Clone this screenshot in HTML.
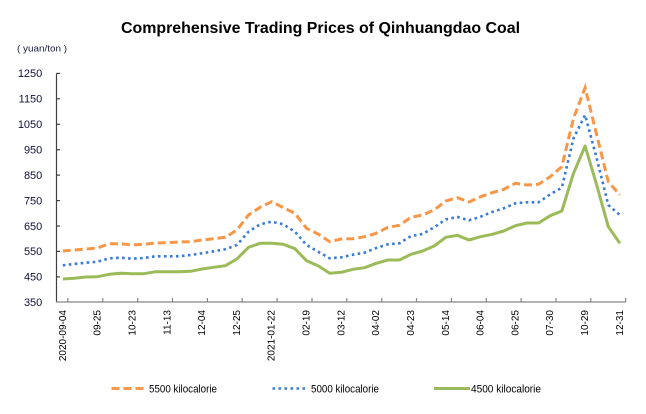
<!DOCTYPE html>
<html>
<head>
<meta charset="utf-8">
<style>
html,body{margin:0;padding:0;background:#fff;}
svg{display:block;}
text{font-family:"Liberation Sans",Arial,sans-serif;}
</style>
</head>
<body>
<svg width="646" height="414" viewBox="0 0 646 414" xmlns="http://www.w3.org/2000/svg">
<rect x="0" y="0" width="646" height="414" fill="#fff"/>
<!-- Title -->
<text x="121" y="33" font-size="16" font-weight="bold" fill="#000" textLength="399" lengthAdjust="spacingAndGlyphs">Comprehensive Trading Prices of Qinhuangdao Coal</text>
<!-- unit -->
<text x="17" y="51.5" font-size="9" fill="#1a1a40" textLength="50" lengthAdjust="spacingAndGlyphs">( yuan/ton )</text>

<!-- Y axis labels -->
<g font-size="11" fill="#10103a" text-anchor="end">
<text x="42.3" y="77.2">1250</text>
<text x="42.3" y="102.6">1150</text>
<text x="42.3" y="128.1">1050</text>
<text x="42.3" y="153.5">950</text>
<text x="42.3" y="178.9">850</text>
<text x="42.3" y="204.4">750</text>
<text x="42.3" y="229.8">650</text>
<text x="42.3" y="255.2">550</text>
<text x="42.3" y="280.7">450</text>
<text x="42.3" y="306.1">350</text>
</g>

<!-- Y axis -->
<line x1="56.5" y1="73.4" x2="56.5" y2="302.3" stroke="#404040" stroke-width="1.2"/>
<g stroke="#404040" stroke-width="1.2">
<line x1="56.5" y1="73.4" x2="60" y2="73.4"/>
<line x1="56.5" y1="98.8" x2="60" y2="98.8"/>
<line x1="56.5" y1="124.3" x2="60" y2="124.3"/>
<line x1="56.5" y1="149.7" x2="60" y2="149.7"/>
<line x1="56.5" y1="175.1" x2="60" y2="175.1"/>
<line x1="56.5" y1="200.6" x2="60" y2="200.6"/>
<line x1="56.5" y1="226" x2="60" y2="226"/>
<line x1="56.5" y1="251.4" x2="60" y2="251.4"/>
<line x1="56.5" y1="276.9" x2="60" y2="276.9"/>
</g>

<!-- X axis -->
<line x1="56" y1="302" x2="626" y2="302" stroke="#868686" stroke-width="1.2"/>
<g stroke="#868686" stroke-width="1.2">
<line x1="67.9" y1="302" x2="67.9" y2="298"/>
<line x1="102.8" y1="302" x2="102.8" y2="298"/>
<line x1="137.7" y1="302" x2="137.7" y2="298"/>
<line x1="172.5" y1="302" x2="172.5" y2="298"/>
<line x1="207.4" y1="302" x2="207.4" y2="298"/>
<line x1="242.2" y1="302" x2="242.2" y2="298"/>
<line x1="277.1" y1="302" x2="277.1" y2="298"/>
<line x1="312" y1="302" x2="312" y2="298"/>
<line x1="346.8" y1="302" x2="346.8" y2="298"/>
<line x1="381.7" y1="302" x2="381.7" y2="298"/>
<line x1="416.5" y1="302" x2="416.5" y2="298"/>
<line x1="451.4" y1="302" x2="451.4" y2="298"/>
<line x1="486.3" y1="302" x2="486.3" y2="298"/>
<line x1="521.1" y1="302" x2="521.1" y2="298"/>
<line x1="556" y1="302" x2="556" y2="298"/>
<line x1="590.8" y1="302" x2="590.8" y2="298"/>
<line x1="625.7" y1="302" x2="625.7" y2="298"/>
</g>

<!-- X labels -->
<g font-size="10" fill="#000" text-anchor="end">
<text transform="translate(65.8,310) rotate(-90)">2020-09-04</text>
<text transform="translate(100.6,310) rotate(-90)">09-25</text>
<text transform="translate(135.4,310) rotate(-90)">10-23</text>
<text transform="translate(170.3,310) rotate(-90)">11-13</text>
<text transform="translate(205.1,310) rotate(-90)">12-04</text>
<text transform="translate(239.9,310) rotate(-90)">12-25</text>
<text transform="translate(274.7,310) rotate(-90)">2021-01-22</text>
<text transform="translate(309.5,310) rotate(-90)">02-19</text>
<text transform="translate(344.3,310) rotate(-90)">03-12</text>
<text transform="translate(379.2,310) rotate(-90)">04-02</text>
<text transform="translate(414,310) rotate(-90)">04-23</text>
<text transform="translate(448.8,310) rotate(-90)">05-14</text>
<text transform="translate(483.6,310) rotate(-90)">06-04</text>
<text transform="translate(518.4,310) rotate(-90)">06-25</text>
<text transform="translate(553.2,310) rotate(-90)">07-30</text>
<text transform="translate(588.1,310) rotate(-90)">10-29</text>
<text transform="translate(622.9,310) rotate(-90)">12-31</text>
</g>

<!-- Series: 4500 (green) -->
<polyline fill="none" stroke="#9BBB59" stroke-width="3" stroke-linejoin="round" points="62.8,279 74.4,278.3 86,277 97.6,276.7 109.2,274.3 120.8,273.3 132.4,273.7 144,273.7 155.6,271.7 167.3,271.7 178.9,271.7 190.5,271.3 202.1,269 213.7,267.3 225.3,265.7 236.9,259 248.5,247.3 260.1,243.3 271.7,243.3 283.3,244.3 294.9,248.7 306.5,260.7 318.1,265.7 329.7,273.3 341.3,272.3 352.9,269.3 364.6,267.7 376.2,263.3 387.8,260 399.4,260 411,254.3 422.6,251 434.2,246 445.8,237.3 457.4,235.3 469,240 480.6,236.7 492.2,234.3 503.8,231 515.4,225.7 527,223 538.6,223 550.2,215.7 561.8,211 573.5,173.3 585.1,146 596.7,185 608.3,226.7 619.9,243.3"/>

<!-- Series: 5000 (blue dotted) -->
<polyline fill="none" stroke="#3A7BD5" stroke-width="2.6" stroke-dasharray="2.6 3.4" points="62.8,265.3 74.4,264 86,262.7 97.6,261.7 109.2,258.3 120.8,257.7 132.4,258.7 144,258 155.6,256.3 167.3,256.3 178.9,256.3 190.5,255 202.1,253.3 213.7,251.3 225.3,249.3 236.9,245 248.5,231.7 260.1,224.3 271.7,221.7 283.3,224.3 294.9,231.7 306.5,245 318.1,251.7 329.7,258.3 341.3,257.3 352.9,254.7 364.6,252.7 376.2,248 387.8,244.3 399.4,243.3 411,236 422.6,234 434.2,227.3 445.8,219.3 457.4,217 469,220.3 480.6,216.7 492.2,212 503.8,208.3 515.4,203.3 527,202.3 538.6,202.3 550.2,194.3 561.8,187.7 573.5,138.3 585.1,115 596.7,158.3 608.3,205 619.9,215"/>

<!-- Series: 5500 (orange dashed) -->
<polyline fill="none" stroke="#F79646" stroke-width="3" stroke-dasharray="8 4" points="62.8,251 74.4,250 86,249 97.6,248 109.2,243.7 120.8,243.7 132.4,245 144,244.3 155.6,243 167.3,242.7 178.9,242 190.5,241.7 202.1,240 213.7,238.7 225.3,237.3 236.9,230 248.5,215 260.1,207.3 271.7,201.7 283.3,207.7 294.9,213.3 306.5,228.3 318.1,234 329.7,241.7 341.3,239 352.9,238.7 364.6,236.7 376.2,233.3 387.8,227.3 399.4,225.3 411,217.3 422.6,215 434.2,210 445.8,201 457.4,197.7 469,202 480.6,196.7 492.2,192.7 503.8,189.3 515.4,183.3 527,185 538.6,184.3 550.2,176.7 561.8,166.7 573.5,118.3 585.1,87.7 596.7,135 608.3,181.7 619.9,195"/>

<!-- Legend -->
<line x1="111.5" y1="388.5" x2="144" y2="388.5" stroke="#F79646" stroke-width="3" stroke-dasharray="8 4"/>
<text x="149" y="392.5" font-size="11" fill="#000" textLength="68" lengthAdjust="spacingAndGlyphs">5500 kilocalorie</text>
<line x1="272.5" y1="388.5" x2="306" y2="388.5" stroke="#3A7BD5" stroke-width="2.6" stroke-dasharray="2.6 3.4"/>
<text x="311" y="392.5" font-size="11" fill="#000" textLength="68" lengthAdjust="spacingAndGlyphs">5000 kilocalorie</text>
<line x1="434" y1="388.5" x2="470" y2="388.5" stroke="#9BBB59" stroke-width="3"/>
<text x="471" y="392.5" font-size="11" fill="#000" textLength="70" lengthAdjust="spacingAndGlyphs">4500 kilocalorie</text>
</svg>
</body>
</html>
